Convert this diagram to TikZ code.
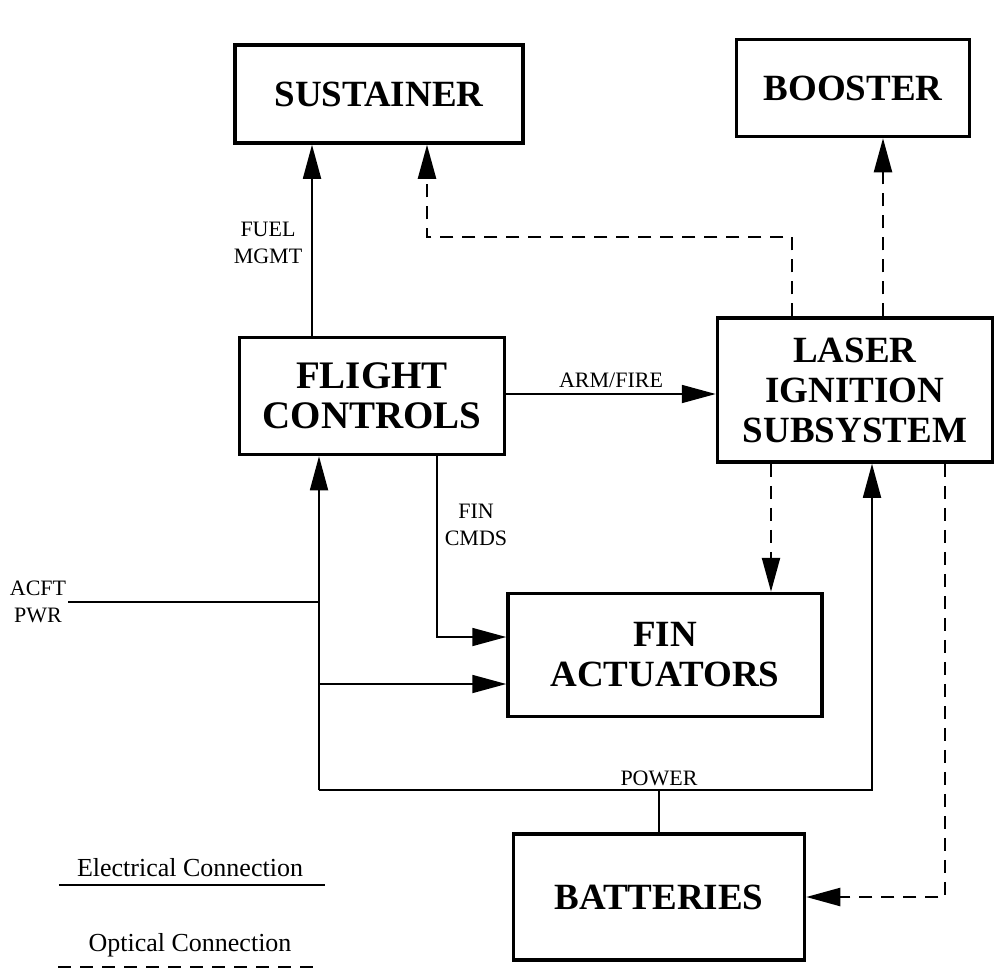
\documentclass[tikz,border=0pt]{standalone}
\usepackage{fontspec}
\setmainfont{Liberation Serif}
\usetikzlibrary{arrows.meta,positioning}

\begin{document}
\begin{tikzpicture}[x=1pt,y=-1pt,
    box/.style={draw, line width=3.5pt, inner sep=0pt, align=center,
      font=\bfseries\fontsize{37}{40}\selectfont},
    lbl/.style={align=center, inner sep=2pt, font=\fontsize{22}{27}\selectfont},
    legend/.style={inner sep=2pt, font=\fontsize{26}{30}\selectfont},
    elec/.style={line width=1.8pt},
    opt/.style={line width=2.3pt, dash pattern=on 13pt off 9pt},
    tip/.style={-{Triangle[length=34pt,width=18pt]}}]
  \useasboundingbox (0,0) rectangle (1005,974);

  % blocks
  \node[box, minimum width=288pt, minimum height=98pt] (sustainer) at (379,94) {SUSTAINER};
  \node[box, minimum width=233pt, minimum height=97pt] (booster) at (853,88) {BOOSTER};
  \node[box, minimum width=265pt, minimum height=117pt,
    font=\bfseries\fontsize{39}{40}\selectfont] (flight) at (372,396) {FLIGHT\\CONTROLS};
  \node[box, minimum width=275pt, minimum height=144pt] (laser) at (855,390) {LASER\\IGNITION\\SUBSYSTEM};
  \node[box, minimum width=314pt, minimum height=123pt] (fin) at (665,655) {FIN\\ACTUATORS};
  \node[box, minimum width=291pt, minimum height=126pt] (batt) at (659,897) {BATTERIES};

  % routing points
  \coordinate (xfuel) at (312,0);
  \coordinate (xsust) at (427,0);
  \coordinate (xlasa) at (792,0);
  \coordinate (xboost) at (883,0);
  \coordinate (ylink) at (0,237);
  \coordinate (yarm) at (0,394);
  \coordinate (xcmd) at (437,0);
  \coordinate (ycmd) at (0,637);
  \coordinate (xbus) at (319,0);
  \coordinate (ybus) at (0,790);
  \coordinate (yfin) at (0,684);
  \coordinate (xlasb) at (872,0);
  \coordinate (xfinopt) at (771,0);
  \coordinate (xbatopt) at (945,0);

  % electrical
  \draw[elec, tip] (flight.north -| xfuel) -- (sustainer.south -| xfuel);
  \node[lbl] (fuel) at (268,243) {FUEL\\MGMT};
  \draw[elec, tip] (flight.east |- yarm) -- (laser.west |- yarm)
    node[lbl, midway, above=3pt] (arm) {ARM/FIRE};
  \draw[elec, tip] (flight.south -| xcmd) |- (fin.west |- ycmd);
  \node[lbl] (cmds) at (476,525) {FIN\\CMDS};
  \node[lbl] (acft) at (38,602) {ACFT\\PWR};
  \draw[elec] (acft.east) -- (acft.east -| xbus);
  \draw[elec, tip] (xbus |- ybus) -- (flight.south -| xbus);
  \draw[elec, tip] (xbus |- yfin) -- (fin.west |- yfin);
  \draw[elec, tip] (xbus |- ybus) -| (laser.south -| xlasb);
  \draw[elec] (batt.north) -- (batt.north |- ybus)
    node[lbl, above=1pt] (power) {POWER};

  % optical
  \draw[opt, tip] (laser.north -| xlasa) |- (xsust |- ylink) -- (sustainer.south -| xsust);
  \draw[opt, tip] (laser.north -| xboost) -- (booster.south -| xboost);
  \draw[opt, tip] (laser.south -| xfinopt) -- (fin.north -| xfinopt);
  \draw[opt, tip] (laser.south -| xbatopt) |- (batt.east);

  % legend
  \node[legend] (eleg) at (190,868) {Electrical Connection};
  \draw[elec] ([xshift=-16pt,yshift=-6pt]eleg.south west) -- ([xshift=20pt,yshift=-6pt]eleg.south east);
  \node[legend] (oleg) at (190,945) {Optical Connection};
  \draw[opt] ([xshift=-28pt,yshift=-8pt]oleg.south west) -- ([xshift=26pt,yshift=-8pt]oleg.south east);
\end{tikzpicture}
\end{document}
